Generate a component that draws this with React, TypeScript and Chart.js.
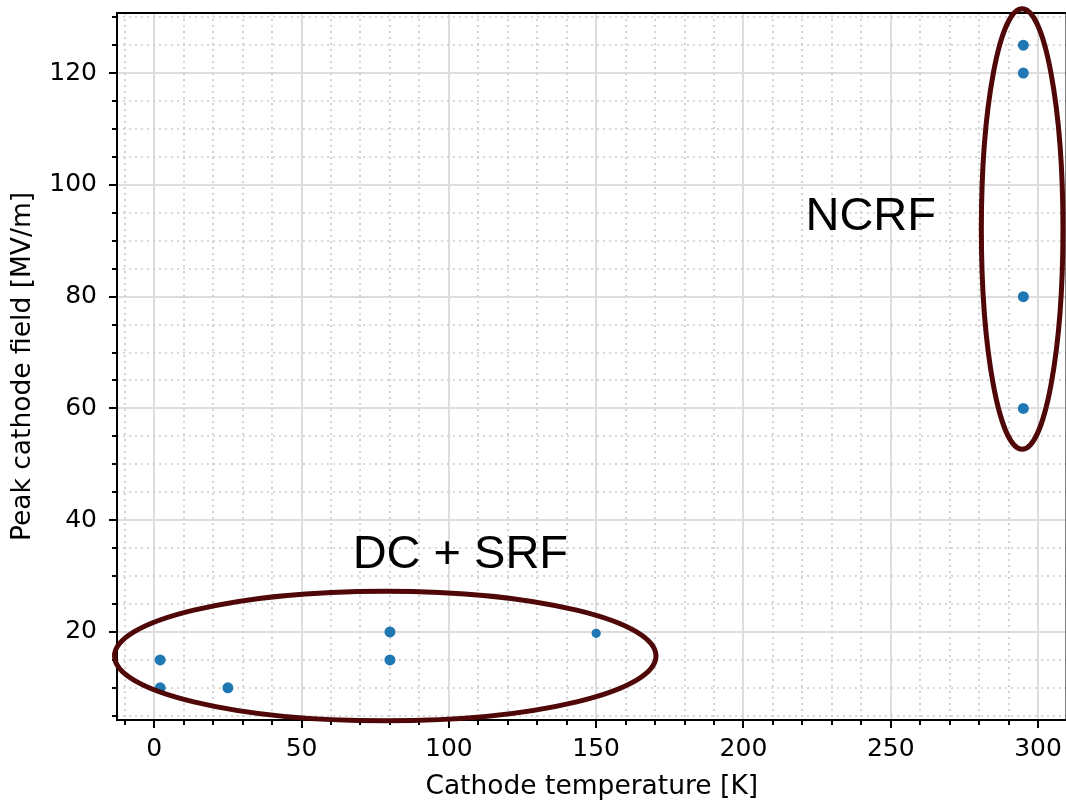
import React, { useEffect, useRef } from "react";
import { Chart, registerables } from "chart.js";

Chart.register(...registerables);

// ---- data ----
const LOW_X = [2, 2, 25, 80, 80];
const LOW_Y = [15, 10, 10, 20, 15];
const MID_X = [150];
const MID_Y = [19.75];
const NCRF_X = [295, 295, 295, 295];
const NCRF_Y = [125, 120, 80, 60];

const X_TICKS = [0, 50, 100, 150, 200, 250, 300];
const Y_TICKS = [20, 40, 60, 80, 100, 120];
const X_MINOR_STEP = 10;
const Y_MINOR_STEP = 5;

const X_MIN = -12.65;
const X_MAX = 309.65;
const Y_MIN = 4.25;
const Y_MAX = 130.75;

const X_TITLE = "Cathode temperature [K]";
const Y_TITLE = "Peak cathode field [MV/m]";

// annotation ellipses (data units): center x, center y, half width, half height
const DC_ELLIPSE = [78.4, 15.7, 91.9, 11.6];
const NCRF_ELLIPSE = [294.6, 92.1, 13.85, 39.4];
const DC_LABEL = { text: "DC + SRF", x: 103.9, y: 31.4 };
const NCRF_LABEL = { text: "NCRF", x: 243.2, y: 91.9 };

const POINT_COLOR = "#1f77b4";
const ELLIPSE_COLOR = "#4f0707";
const TICK_FONT = { family: "DejaVu Sans", size: 25 };
const X_TITLE_FONT = { family: "DejaVu Sans", size: 26.5, lineHeight: 1.05 };
const Y_TITLE_FONT = { family: "DejaVu Sans", size: 26.5 };

function minorValues(min: number, max: number, step: number, majors: number[]) {
  const out: number[] = [];
  const start = Math.ceil(min / step) * step;
  for (let v = start; v <= max + 1e-9; v += step) {
    if (!majors.some((m) => Math.abs(m - v) < 1e-9)) out.push(v);
  }
  return out;
}

const decorPlugin = {
  id: "decor",
  beforeDatasetsDraw(chart: any) {
    const { ctx, chartArea, scales } = chart;
    const xs = scales.x;
    const ys = scales.y;
    ctx.save();
    // minor grid (dotted)
    ctx.strokeStyle = "#cccccc";
    ctx.lineWidth = 1.7;
    ctx.setLineDash([2, 4]);
    const xm = minorValues(X_MIN, X_MAX, X_MINOR_STEP, X_TICKS);
    const ym = minorValues(Y_MIN, Y_MAX, Y_MINOR_STEP, Y_TICKS);
    xm.forEach((v) => {
      const px = Math.round(xs.getPixelForValue(v));
      ctx.beginPath();
      ctx.moveTo(px, chartArea.top);
      ctx.lineTo(px, chartArea.bottom);
      ctx.stroke();
    });
    ym.forEach((v) => {
      const py = Math.round(ys.getPixelForValue(v));
      ctx.beginPath();
      ctx.moveTo(chartArea.left, py);
      ctx.lineTo(chartArea.right, py);
      ctx.stroke();
    });
    ctx.setLineDash([]);
    // minor ticks
    ctx.strokeStyle = "#000";
    ctx.lineWidth = 2;
    xm.forEach((v) => {
      const px = Math.round(xs.getPixelForValue(v));
      ctx.beginPath();
      ctx.moveTo(px, chartArea.bottom);
      ctx.lineTo(px, chartArea.bottom + 5);
      ctx.stroke();
    });
    ym.forEach((v) => {
      const py = Math.round(ys.getPixelForValue(v));
      ctx.beginPath();
      ctx.moveTo(chartArea.left, py);
      ctx.lineTo(chartArea.left - 5, py);
      ctx.stroke();
    });
    ctx.restore();
  },
  afterDatasetsDraw(chart: any) {
    const { ctx, chartArea, scales } = chart;
    const xs = scales.x;
    const ys = scales.y;
    ctx.save();
    // spines
    ctx.strokeStyle = "#000";
    ctx.lineWidth = 2;
    ctx.strokeRect(chartArea.left, chartArea.top, chartArea.right - chartArea.left, chartArea.bottom - chartArea.top);
    // ellipses
    const drawEllipse = (e: number[]) => {
      const cx = xs.getPixelForValue(e[0]);
      const cy = ys.getPixelForValue(e[1]);
      const rx = Math.abs(xs.getPixelForValue(e[0] + e[2]) - cx);
      const ry = Math.abs(ys.getPixelForValue(e[1] + e[3]) - cy);
      ctx.beginPath();
      ctx.ellipse(cx, cy, rx, ry, 0, 0, Math.PI * 2);
      ctx.strokeStyle = ELLIPSE_COLOR;
      ctx.lineWidth = 5;
      ctx.stroke();
    };
    drawEllipse(DC_ELLIPSE);
    drawEllipse(NCRF_ELLIPSE);
    // labels
    ctx.fillStyle = "#000";
    ctx.font = "47px 'Liberation Sans', Arial, sans-serif";
    ctx.textAlign = "center";
    ctx.textBaseline = "alphabetic";
    [DC_LABEL, NCRF_LABEL].forEach((l) => {
      ctx.fillText(l.text, xs.getPixelForValue(l.x), ys.getPixelForValue(l.y));
    });
    ctx.restore();
  },
};

export default function App() {
  const ref = useRef<HTMLCanvasElement>(null);
  useEffect(() => {
    if (!ref.current) return;
    const chart = new Chart(ref.current, {
      type: "scatter",
      data: {
        datasets: [
          {
            data: LOW_X.map((x, i) => ({ x, y: LOW_Y[i] })),
            backgroundColor: POINT_COLOR,
            borderWidth: 0,
            pointRadius: 5.5,
          },
          {
            data: MID_X.map((x, i) => ({ x, y: MID_Y[i] })),
            backgroundColor: POINT_COLOR,
            borderWidth: 0,
            pointRadius: 4.6,
          },
          {
            data: NCRF_X.map((x, i) => ({ x, y: NCRF_Y[i] })),
            backgroundColor: POINT_COLOR,
            borderWidth: 0,
            pointRadius: 5.5,
          },
        ],
      },
      options: {
        responsive: false,
        animation: false,
        devicePixelRatio: 1,
        layout: { padding: { top: 13, right: 5, left: 0, bottom: 0 } },
        plugins: { legend: { display: false }, tooltip: { enabled: false } },
        scales: {
          x: {
            type: "linear",
            min: X_MIN,
            max: X_MAX,
            afterBuildTicks: (s: any) => {
              s.ticks = X_TICKS.map((v) => ({ value: v }));
            },
            afterFit: (s: any) => {
              s.height = 81;
              s.paddingLeft = 0;
              s.paddingRight = 0;
              s.paddingTop = 0;
              s.paddingBottom = 0;
            },
            ticks: {
              font: TICK_FONT,
              color: "#000",
              padding: 6,
              maxRotation: 0,
              autoSkip: false,
              callback: (v: any) => String(v),
            },
            grid: { color: "#dddddd", lineWidth: 2, tickLength: 8, tickColor: "#000", tickWidth: 2 },
            border: { display: false },
            title: { display: true, text: X_TITLE, font: X_TITLE_FONT, color: "#000", padding: { top: 0, bottom: 0 } },
          },
          y: {
            type: "linear",
            min: Y_MIN,
            max: Y_MAX,
            afterBuildTicks: (s: any) => {
              s.ticks = Y_TICKS.map((v) => ({ value: v }));
            },
            afterFit: (s: any) => {
              s.width = 117;
              s.paddingTop = 0;
              s.paddingBottom = 0;
              s.paddingLeft = 0;
              s.paddingRight = 0;
            },
            ticks: {
              font: TICK_FONT,
              color: "#000",
              padding: 12,
              autoSkip: false,
              callback: (v: any) => String(v),
            },
            grid: { color: "#dddddd", lineWidth: 2, tickLength: 8, tickColor: "#000", tickWidth: 2 },
            border: { display: false },
            title: { display: true, text: Y_TITLE, font: Y_TITLE_FONT, color: "#000", padding: { top: 7, bottom: 0 } },
          },
        },
      },
      plugins: [decorPlugin],
    });
    return () => chart.destroy();
  }, []);
  return (
    <div
      style={{
        position: "fixed",
        left: 0,
        top: 0,
        width: 1066,
        height: 801,
        overflow: "hidden",
        background: "#fff",
      }}
    >
      <canvas ref={ref} width={1072} height={801} style={{ display: "block" }} />
    </div>
  );
}
